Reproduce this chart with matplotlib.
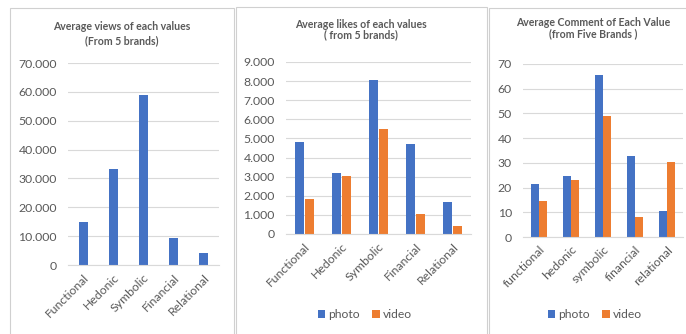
import matplotlib.pyplot as plt
from matplotlib.patches import Rectangle
import numpy as np

plt.rcParams['font.family'] = ['Lato', 'DejaVu Sans']

# data
cats_cap = ['Functional', 'Hedonic', 'Symbolic', 'Financial', 'Relational']
cats_low = ['functional', 'hedonic', 'symbolic', 'financial', 'relational']

views = [15000, 33300, 58800, 9500, 4000]

likes_photo = [4840, 3180, 8070, 4700, 1700]
likes_video = [1830, 3040, 5490, 1070, 440]

comm_photo = [21.6, 24.8, 65.4, 32.6, 10.7]
comm_video = [14.4, 22.9, 49.0, 8.2, 30.2]

BLUE = '#4472C4'
ORANGE = '#ED7D31'
TXT = '#595959'
GRID = '#D9D9D9'

W, H = 686, 334
fig = plt.figure(figsize=(W / 100, H / 100), dpi=100)


def px_axes(x0, x1, ytop, ybot):
    return fig.add_axes([x0 / W, 1 - ybot / H, (x1 - x0) / W, (ybot - ytop) / H])


def box(x0, x1, ytop):
    fig.patches.append(Rectangle((x0 / W, -0.01), (x1 - x0) / W, 1 - ytop / H + 0.01,
                                 transform=fig.transFigure, facecolor='white',
                                 edgecolor='#D0D0D0', lw=0.8, zorder=-5))


def title(xc, lines, ys):
    for t, y in zip(lines, ys):
        fig.text(xc / W, 1 - y / H, t, ha='center', va='center', fontsize=7.6,
                 color=TXT, fontweight='bold')


def fmt_thousands(v):
    if v == 0:
        return '0'
    return f'{int(v):,}'.replace(',', '.')


def style(ax, labels, ymax, step, thousands=True):
    ax.set_xlim(-0.5, len(labels) - 0.5)
    ax.set_ylim(0, ymax)
    ticks = np.arange(0, ymax + 1, step)
    ax.set_yticks(ticks)
    if thousands:
        ax.set_yticklabels([fmt_thousands(t) for t in ticks])
    else:
        ax.set_yticklabels([str(int(t)) for t in ticks])
    ax.set_xticks(range(len(labels)))
    ax.set_xticklabels(labels, rotation=45, ha='right', rotation_mode='anchor')
    ax.tick_params(length=0, labelsize=8.8, colors=TXT, pad=8)
    ax.tick_params(axis='x', pad=5)
    for s in ['top', 'right', 'left']:
        ax.spines[s].set_visible(False)
    ax.spines['bottom'].set_color(GRID)
    ax.grid(axis='y', color=GRID, lw=0.8)
    ax.set_axisbelow(True)
    ax.patch.set_alpha(0)


def legend(ax, xc):
    fig.legend(*ax.get_legend_handles_labels(), loc='center', ncol=2,
               bbox_to_anchor=(xc / W, 1 - 315 / H), frameon=False, fontsize=8.7,
               labelcolor=TXT, handlelength=0.6, handleheight=0.6,
               handletextpad=0.3, columnspacing=1.0)


box(10, 234, 8)
box(236, 487, 7)
box(489, 690, 8)

# panel 1
ax1 = px_axes(68, 219, 63, 265)
ax1.bar(range(5), views, width=0.3, color=BLUE)
style(ax1, cats_cap, 70000, 10000)
title(122, ['Average views of each values', '(From 5 brands)'], [27, 41])

# panel 2
x = np.arange(5)
ax2 = px_axes(286, 471, 62, 234)
ax2.bar(x - 0.13, likes_photo, width=0.23, color=BLUE, label='photo')
ax2.bar(x + 0.13, likes_video, width=0.23, color=ORANGE, label='video')
style(ax2, cats_cap, 9000, 1000)
title(361, ['Average likes of each values', '( from 5 brands)'], [25, 35])
legend(ax2, 365)

# panel 3
ax3 = px_axes(523, 683, 64, 237)
ax3.bar(x - 0.13, comm_photo, width=0.25, color=BLUE, label='photo')
ax3.bar(x + 0.13, comm_video, width=0.25, color=ORANGE, label='video')
style(ax3, cats_low, 70, 10, thousands=False)
title(593, ['Average Comment of Each Value', '(from Five Brands )'], [23, 33.5])
legend(ax3, 595)

fig.savefig('out.png', dpi=100, facecolor='white')
